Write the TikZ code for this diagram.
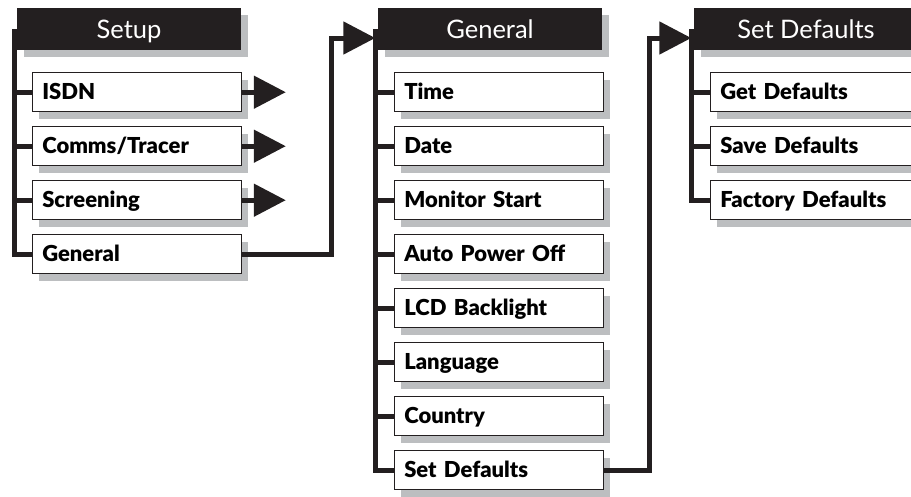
\documentclass[tikz,border=0pt]{standalone}
\usepackage{fontspec}
\setmainfont{Lato}[BoldFont={Lato Black}]
\usepackage{tikz}
\usetikzlibrary{arrows.meta,positioning,shadows}
\definecolor{ink}{HTML}{231F20}
\definecolor{shade}{HTML}{BCBEC0}
\tikzset{
  hdrbox/.style={fill=ink,text=white,minimum width=224pt,minimum height=42pt,inner sep=0pt,
    font=\fontsize{25.5}{28}\selectfont,text height=18pt,text depth=0pt,
    drop shadow={shadow xshift=7pt,shadow yshift=-7pt,fill=shade,opacity=1}},
  itembox/.style={draw=ink,line width=1pt,fill=white,minimum height=39pt,text width=189pt,
    inner xsep=10pt,inner ysep=0pt,align=left,font=\bfseries\fontsize{22}{24}\selectfont,
    text height=15.5pt,text depth=0pt,
    drop shadow={shadow xshift=7pt,shadow yshift=-7pt,fill=shade,opacity=1}},
  bus/.style={draw=ink,line width=5pt},
  arr/.style={bus,-{Triangle[length=32pt,width=32pt]}},
}
\begin{document}
\begin{tikzpicture}[node distance=14pt]
  \useasboundingbox (0,0) rectangle (911pt,-496pt);
  \clip (0,0) rectangle (911pt,-496pt);
  % Setup menu
  \node[hdrbox] (setup) at (129pt,-29pt) {Setup};
  \node[itembox,below right=22pt and 15pt of setup.south west,anchor=north west] (isdn) {ISDN};
  \node[itembox,below=of isdn] (comms) {Comms/Tracer};
  \node[itembox,below=of comms] (screening) {Screening};
  \node[itembox,below=of screening] (sgeneral) {General};
  % General menu
  \node[hdrbox] (general) at (490pt,-29pt) {General};
  \node[itembox,below right=22pt and 16pt of general.south west,anchor=north west] (time) {Time};
  \node[itembox,below=of time] (date) {Date};
  \node[itembox,below=of date] (monitor) {Monitor Start};
  \node[itembox,below=of monitor] (autooff) {Auto Power Off};
  \node[itembox,below=of autooff] (lcd) {LCD Backlight};
  \node[itembox,below=of lcd] (language) {Language};
  \node[itembox,below=of language] (country) {Country};
  \node[itembox,below=of country] (setdef) {Set Defaults};
  % Set Defaults menu
  \node[hdrbox] (defaults) at (806pt,-29pt) {Set Defaults};
  \node[itembox,below right=22pt and 16pt of defaults.south west,anchor=north west] (getdef) {Get Defaults};
  \node[itembox,below=of getdef] (savedef) {Save Defaults};
  \node[itembox,below=of savedef] (factdef) {Factory Defaults};
  % buses
  \coordinate (sbus) at ([xshift=-2.5pt]setup.west);
  \coordinate (gbus) at ([xshift=-2.5pt]general.west);
  \coordinate (dbus) at ([xshift=-2.5pt]defaults.west);
  \draw[bus] (sbus) |- (sgeneral.west);
  \foreach \n in {isdn,comms,screening}
    \draw[bus] (\n.west) -- (\n.west -| sbus);
  \draw[bus] (gbus) |- (setdef.west);
  \foreach \n in {time,date,monitor,autooff,lcd,language,country}
    \draw[bus] (\n.west) -- (\n.west -| gbus);
  \draw[bus] (dbus) |- (factdef.west);
  \foreach \n in {getdef,savedef}
    \draw[bus] (\n.west) -- (\n.west -| dbus);
  % links
  \foreach \n in {isdn,comms,screening}
    \draw[arr] (\n.east) -- ([xshift=44pt]\n.east);
  \draw[arr] (sgeneral.east) -- ++(90pt,0) |- ([yshift=-9pt]gbus);
  \draw[arr] (setdef.east) -- ++(46pt,0) |- ([yshift=-9pt]dbus);
\end{tikzpicture}
\end{document}
